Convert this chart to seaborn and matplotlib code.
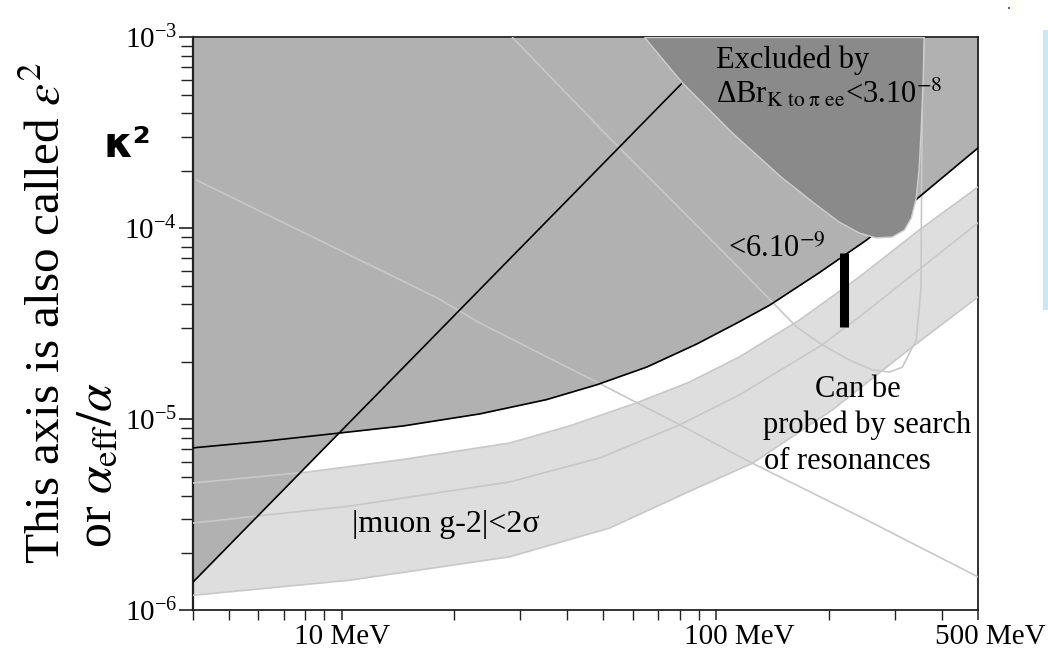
import matplotlib

matplotlib.use('Agg')
import matplotlib.pyplot as plt
import matplotlib.transforms as mtransforms
import numpy as np
import seaborn as sns
from matplotlib.patches import Rectangle
from matplotlib.ticker import NullFormatter

# lower edge of the big excluded area (black curve)
bound_mev = [4.0, 6.24, 9.9, 14.6, 23.4, 35.2, 48.0, 65.2, 88.6, 115, 139, 188, 252, 348, 500]
bound_k2 = [7.1e-6, 7.7e-6, 8.5e-6, 9.25e-6, 1.07e-5, 1.27e-5, 1.52e-5, 1.88e-5, 2.48e-5,
            3.24e-5, 3.97e-5, 5.85e-5, 8.7e-5, 1.46e-4, 2.64e-4]

# straight black limit
diag_mev = [4.0, 81.3]
diag_k2 = [1.4e-6, 5.8e-4]

# K -> pi ee, Br < 3e-8 excluded region
kpee_mev = [64.4, 81.3, 110.5, 150, 185, 213, 241, 267.5, 295, 318, 332, 342, 348, 352.6, 357, 359]
kpee_k2 = [1e-3, 5.78e-4, 3.16e-4, 1.84e-4, 1.33e-4, 1.08e-4, 9.47e-5, 8.92e-5, 9.02e-5,
           9.8e-5, 1.135e-4, 1.44e-4, 2.02e-4, 3.28e-4, 5.99e-4, 1e-3]

# K -> pi ee, Br < 6e-9 contour
kpee6_mev = [28.6, 48.9, 102, 164, 192, 226.5, 261, 290, 314, 342, 352, 355, 359]
kpee6_k2 = [1e-3, 3.36e-4, 7.9e-5, 3.05e-5, 2.46e-5, 2.05e-5, 1.82e-5, 1.77e-5, 1.88e-5,
            2.61e-5, 4.77e-5, 4.71e-4, 1e-3]

# falling thin line
fall_mev = [4.1, 8.4, 18.0, 23.4, 48.0, 79.8, 125, 252, 500]
fall_k2 = [1.79e-4, 9.0e-5, 4.33e-5, 3.2e-5, 1.57e-5, 9.4e-6, 5.9e-6, 2.98e-6, 1.5e-6]

# muon g-2 band: upper edge, central line, lower edge
g2_hi_mev = [4.0, 8.08, 14.3, 28.1, 40.6, 61.2, 84.9, 115, 167, 241, 348, 500]
g2_hi_k2 = [4.65e-6, 5.3e-6, 6.14e-6, 7.53e-6, 9.25e-6, 1.22e-5, 1.57e-5, 2.12e-5,
            3.32e-5, 5.57e-5, 9.8e-5, 1.65e-4]
g2_mid_mev = [4.0, 10.5, 28.1, 48.9, 79.8, 115, 192, 241, 355, 500]
g2_mid_k2 = [2.87e-6, 3.52e-6, 4.71e-6, 6.29e-6, 9.36e-6, 1.34e-5, 2.46e-5, 3.44e-5,
             6.28e-5, 1.07e-4]
g2_lo_mev = [4.0, 10.5, 28.1, 51.9, 90.2, 125, 204, 334, 500]
g2_lo_k2 = [1.2e-6, 1.44e-6, 1.91e-6, 2.7e-6, 4.44e-6, 5.9e-6, 1.12e-5, 2.4e-5, 4.38e-5]

# resonance search bar
bar_mev = 220
bar_k2 = [3.05e-5, 7.45e-5]

x_ticks = [10, 100, 500]
x_tick_labels = ['10 MeV', '100 MeV', '500 MeV']

GRAY = '#b1b1b1'
DARK = '#8a8a8a'
BAND = '#dedede'
THIN = '#c8c8c8'

sns.set_theme(style='ticks')
plt.rcParams['font.family'] = ['Liberation Serif', 'DejaVu Serif']
plt.rcParams['mathtext.fontset'] = 'stix'
plt.rcParams['text.color'] = 'black'

fig = plt.figure(figsize=(10.48, 6.61), dpi=100)
ax = fig.add_axes([0.1837, 0.0764, 0.7495, 0.8669])
ax.set_xscale('log')
ax.set_yscale('log')

# filled areas
ax.fill(np.r_[g2_hi_mev, g2_lo_mev[::-1]], np.r_[g2_hi_k2, g2_lo_k2[::-1]],
        color=BAND, lw=0, zorder=1)
ax.fill_between(bound_mev, bound_k2, 1e-3, color=GRAY, lw=0, zorder=2)
ax.fill_between(diag_mev, diag_k2, 1e-3, color=GRAY, lw=0, zorder=2)
ax.fill(kpee_mev, kpee_k2, facecolor=DARK, edgecolor='#cfcfcf', lw=1.0, zorder=4)

# thin grey lines
for xs, ys in [(g2_hi_mev, g2_hi_k2), (g2_mid_mev, g2_mid_k2), (g2_lo_mev, g2_lo_k2),
               (fall_mev, fall_k2), (kpee6_mev, kpee6_k2)]:
    sns.lineplot(x=xs, y=ys, ax=ax, color=THIN, lw=1.2, sort=False, estimator=None, zorder=3)

# black limits
sns.lineplot(x=bound_mev, y=bound_k2, ax=ax, color='black', lw=1.2, sort=False, estimator=None, zorder=3.5)
sns.lineplot(x=diag_mev, y=diag_k2, ax=ax, color='black', lw=1.2, sort=False, estimator=None, zorder=3.5)
ax.vlines(bar_mev, bar_k2[0], bar_k2[1], color='black', lw=6.5, zorder=5)

ax.set_xlim(4, 500)
ax.set_ylim(1e-6, 1e-3)

ax.set_xticks(x_ticks)
ax.set_xticklabels(x_tick_labels)
ax.xaxis.set_minor_formatter(NullFormatter())
ax.yaxis.set_minor_formatter(NullFormatter())
ax.tick_params(axis='x', which='major', length=7, width=1.1, labelsize=21, pad=3, colors='#222222')
ax.tick_params(axis='x', which='minor', length=7, width=1.0, colors='#222222')
ax.tick_params(axis='y', which='major', length=10, width=1.2, labelsize=21, pad=1, colors='#222222')
ax.tick_params(axis='y', which='minor', length=8.5, width=1.0, colors='#222222')
ax.tick_params(labelcolor='black')
for side in ['left', 'right', 'top', 'bottom']:
    ax.spines[side].set_visible(True)
    ax.spines[side].set_color('#222222')
    ax.spines[side].set_linewidth(1.3)
ax.spines['left'].set_linewidth(1.6)

# nudge the 100 and 500 MeV labels to the right as in the original
for label, dx in zip(ax.xaxis.get_majorticklabels(), [0, 0.23, 0.12]):
    label.set_transform(label.get_transform() + mtransforms.ScaledTranslation(dx, 0, fig.dpi_scale_trans))

# annotations
ax.text(0.6665, 0.9468, 'Excluded by', transform=ax.transAxes, fontsize=22, va='baseline', zorder=6)
ax.text(0.6665, 0.8857, r'ΔBr$_{\mathrm{K\ to\ \pi\ ee}}$<3.10$^{-8}$', transform=ax.transAxes,
        fontsize=22, va='baseline', zorder=6)
ax.text(0.6817, 0.617, r'<6.10$^{-9}$', transform=ax.transAxes, fontsize=22, va='baseline', zorder=6)
ax.text(0.8472, 0.3726, 'Can be', transform=ax.transAxes, fontsize=22, ha='center', va='baseline', zorder=6)
ax.text(0.7263, 0.3098, 'probed by search', transform=ax.transAxes, fontsize=22, va='baseline', zorder=6)
ax.text(0.7275, 0.2469, 'of resonances', transform=ax.transAxes, fontsize=22, va='baseline', zorder=6)
ax.text(0.2031, 0.137, '|muon g-2|<2σ', transform=ax.transAxes, fontsize=23, va='baseline', zorder=6)

# axis titles
fig.text(0.0450, 0.526, r'This axis is also called $\varepsilon^2$', rotation=90,
         fontsize=35.5, ha='center', va='center')
fig.text(0.0935, 0.296, r'or $\alpha_{\mathrm{eff}}/\alpha$', rotation=90,
         fontsize=36, ha='center', va='center')
fig.text(0.122, 0.780, 'κ²', fontsize=30, fontweight='bold', family=['DejaVu Sans'],
         ha='center', va='center')

# light blue strip at the right edge of the slide
fig.add_artist(Rectangle((0.9952, 0.531), 0.0048, 0.4236, transform=fig.transFigure,
                         facecolor='#c6e6fa', edgecolor='none'))
fig.add_artist(Rectangle((0.9615, 0.986), 0.002, 0.003, transform=fig.transFigure,
                         facecolor='#5a5adc', edgecolor='none'))

fig.savefig('out.png', dpi=100)
